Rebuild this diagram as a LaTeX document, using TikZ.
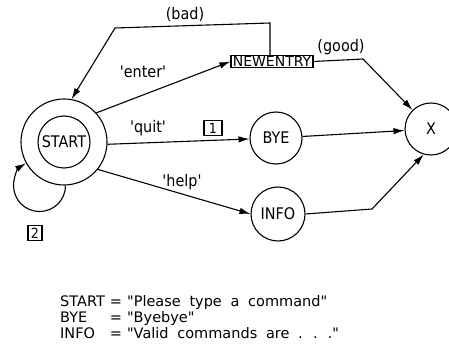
\documentclass[tikz,border=0pt]{standalone}
\usepackage{fontspec}
\newfontfamily\lf{DejaVu Sans}[FakeStretch=0.9]
\newfontfamily\lb{DejaVu Sans}
\usetikzlibrary{arrows.meta,calc}
\begin{document}
\begin{tikzpicture}[x=1pt,y=-1pt,
  every node/.style={font=\lf\fontsize{16}{18}\selectfont},
  state/.style={circle,draw,line width=1.1pt,inner sep=0pt},
  edge/.style={line width=1.1pt,-{Latex[length=11pt,width=6.5pt]}},
  lbl/.style={inner sep=0pt},
  numbox/.style={draw,line width=1.1pt,inner sep=0pt,minimum width=18pt,minimum height=15pt,font=\lf\fontsize{14}{14}\selectfont}
]
\useasboundingbox (0,0) rectangle (449,347);

% states
\node[state,minimum size=86pt] (start) at (64,142) {};
\node[state,minimum size=52pt] (startin) at (64,142) {START};
\node[state,minimum size=52pt] (bye) at (276,138) {BYE};
\node[state,minimum size=54pt] (info) at (278,214) {INFO};
\node[state,minimum size=52pt] (x) at (431,129) {X};
\node[draw,line width=1.1pt,minimum width=82pt,minimum height=12pt,inner sep=0pt,
      font=\lb\fontsize{14}{14}\selectfont] (ne) at (272,61.5) {NEWENTRY};

% labels
\node[lbl] (lbad) at (185,14) {(bad)};
\node[lbl] (lgood) at (341,47) {(good)};
\node[lbl] (lenter) at (143,72) {'enter'};
\node[lbl] (lquit) at (148,128) {'quit'};
\node[lbl] (lhelp) at (182,182) {'help'};
\node[numbox] (n1) at (213,128) {1};
\node[numbox,minimum width=14pt,line width=1.6pt] (n2) at (35,233) {2};

% connectors
\coordinate (b1) at (270,23);
\coordinate (b2) at (115,28);
\draw[edge] (ne.north -| b1) -- (b1) -- (b2) -- (start.80);
\draw[edge] (start.42) -- (ne.west);
\draw[edge] (start.-3) -- (bye);
\draw[edge] (start.-39) -- (info.west);
\draw[edge] (bye) -- (x);
\coordinate (g1) at (363,59);
\draw[edge] (ne.east) -- (g1) -- (x);
\coordinate (i1) at (372,209);
\draw[edge] (info.east) -- (i1) -- (x.-106);
\draw[edge] (start.-88) arc[start angle=0,end angle=239,radius=26];

% legend
\node[anchor=base west,inner sep=0pt,font=\lb\fontsize{14.5}{16}\selectfont] (legend) at (60,306)
{\spaceskip=0.6em\relax
\begin{tabular}[t]{@{}l@{\hspace{5pt}}l@{\hspace{5pt}}l@{}}
START & = & "Please type a command"\\
BYE & = & "Byebye"\\
INFO & = & "Valid commands are . . ."
\end{tabular}};
\end{tikzpicture}
\end{document}
